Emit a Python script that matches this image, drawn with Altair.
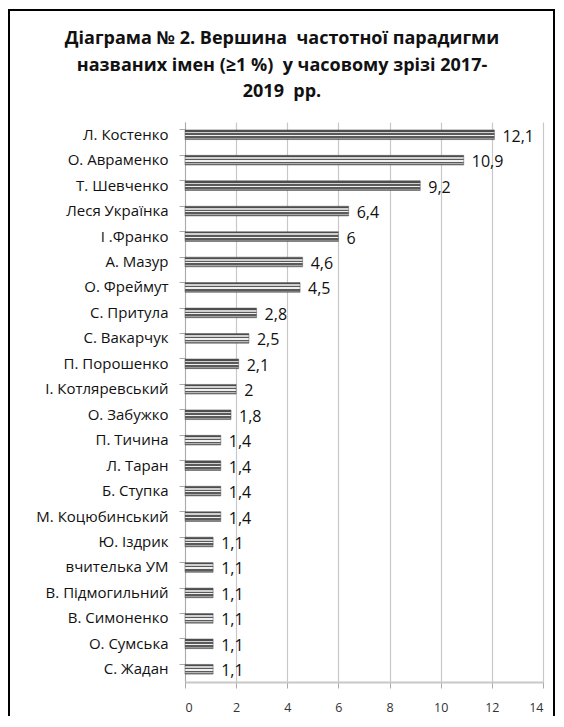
import altair as alt
import pandas as pd

names = ["Л. Костенко", "О. Авраменко", "Т. Шевченко", "Леся Українка", "І .Франко",
         "А. Мазур", "О. Фреймут", "С. Притула", "С. Вакарчук", "П. Порошенко",
         "І. Котляревський", "О. Забужко", "П. Тичина", "Л. Таран", "Б. Ступка",
         "М. Коцюбинський", "Ю. Іздрик", "вчителька УМ", "В. Підмогильний",
         "В. Симоненко", "О. Сумська", "С. Жадан"]
values = [12.1, 10.9, 9.2, 6.4, 6, 4.6, 4.5, 2.8, 2.5, 2.1, 2, 1.8, 1.4, 1.4, 1.4,
          1.4, 1.1, 1.1, 1.1, 1.1, 1.1, 1.1]
labels = [str(v).replace(".", ",") for v in values]

df = pd.DataFrame({"name": names, "value": values, "label": labels})

FONT = "Open Sans"

stripes = alt.Gradient(
    gradient="linear", x1=0, y1=0, x2=0, y2=1,
    stops=[
        alt.GradientStop(offset=0.0, color="#4d4d4d"),
        alt.GradientStop(offset=0.18, color="#4d4d4d"),
        alt.GradientStop(offset=0.18, color="#d0d0d0"),
        alt.GradientStop(offset=0.36, color="#d0d0d0"),
        alt.GradientStop(offset=0.36, color="#5a5a5a"),
        alt.GradientStop(offset=0.5, color="#5a5a5a"),
        alt.GradientStop(offset=0.5, color="#f0f0f0"),
        alt.GradientStop(offset=0.64, color="#f0f0f0"),
        alt.GradientStop(offset=0.64, color="#5a5a5a"),
        alt.GradientStop(offset=0.82, color="#5a5a5a"),
        alt.GradientStop(offset=0.82, color="#c0c0c0"),
        alt.GradientStop(offset=1.0, color="#4d4d4d"),
    ],
)

y_enc = alt.Y("name:N", sort=None, title=None,
              scale=alt.Scale(paddingInner=0.62, paddingOuter=0.31),
              axis=alt.Axis(labelFont=FONT, labelFontSize=15, labelColor="#111",
                            labelPadding=11, domainColor="#aaaaaa", tickColor="#aaaaaa",
                            tickSize=6, bandPosition=0, labelLimit=300, grid=False))
x_enc = alt.X("value:Q", title=None,
              scale=alt.Scale(domain=[0, 14], nice=False),
              axis=alt.Axis(values=list(range(0, 15, 2)), labelFont=FONT, labelFontSize=12.5,
                            labelColor="#333", labelPadding=13, domainColor="#c8c8c8",
                            domainWidth=2, tickColor="#aaaaaa", tickSize=6,
                            gridColor="#c8c8c8", gridWidth=1.2))

bars = alt.Chart(df).mark_bar(color=stripes, stroke="#555", strokeWidth=0.5).encode(
    x=x_enc, y=y_enc)

text = alt.Chart(df).mark_text(align="left", baseline="middle", dx=8, dy=2,
                               font=FONT, fontSize=16, color="#111").encode(
    x="value:Q", y=alt.Y("name:N", sort=None), text="label:N")

frame = alt.Chart(alt.Data(values=[{"a": 1}])).mark_rect(
    fill=None, stroke="#000", strokeWidth=2, clip=False).encode(
    x=alt.value(-176), x2=alt.value(369), y=alt.value(-112), y2=alt.value(640))

chart = alt.layer(bars, text, frame).properties(
    width=358, height=560,
    autosize=alt.AutoSizeParams(type="none"),
    padding={"left": 177, "top": 114, "right": 12, "bottom": 34},
    title=alt.TitleParams(
        text=["Діаграма № 2. Вершина\u00a0 частотної парадигми",
              "названих імен (≥1 %)\u00a0 у часовому зрізі 2017-",
              "2019\u00a0 рр."],
        font=FONT, fontSize=18, fontWeight="bold", color="#111",
        anchor="middle", frame="group", dx=-82, lineHeight=26.5, offset=-92),
).configure_view(stroke=None)

chart.save("out.html", embed_options={"renderer": "svg", "actions": False})
